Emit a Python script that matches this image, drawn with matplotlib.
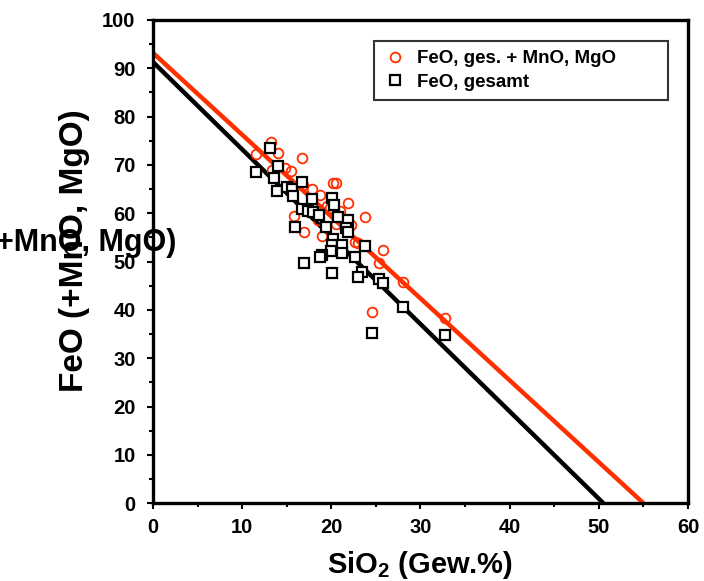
import matplotlib
matplotlib.use("Agg")
import matplotlib.pyplot as plt
import numpy as np
from matplotlib.ticker import MultipleLocator

plt.rcParams["font.family"] = ["Liberation Sans", "DejaVu Sans"]
plt.rcParams["font.weight"] = "bold"
plt.rcParams["mathtext.fontset"] = "custom"
plt.rcParams["mathtext.rm"] = "Liberation Sans:bold"
plt.rcParams["mathtext.bf"] = "Liberation Sans:bold"

RED = "#ff3000"

# FeO, ges. + MnO, MgO (circles)
sio2_total = [11.5, 13.2, 14.0, 14.8, 15.5, 13.4, 15.8, 16.7, 16.8, 18.7, 20.2, 20.5,
              21.9, 19.8, 16.9, 18.9, 23.8, 22.6, 23.0, 25.8, 25.3, 28.0, 24.6, 32.8,
              17.8, 19.5, 21.0, 22.2, 20.5, 18.5]
feo_total = [72.3, 74.7, 72.5, 69.4, 68.7, 69.0, 59.4, 71.5, 65.8, 63.8, 66.3, 66.3,
             62.1, 61.0, 56.1, 55.3, 59.2, 54.0, 53.8, 52.4, 49.7, 45.8, 39.5, 38.3,
             65.0, 61.5, 60.5, 57.5, 57.8, 58.5]

# FeO, gesamt (squares)
sio2_feo = [11.5, 13.1, 14.0, 13.6, 13.9, 15.0, 15.6, 15.7, 15.9, 16.7, 17.8, 16.7,
            17.4, 17.9, 18.6, 20.1, 20.3, 20.7, 21.9, 19.4, 21.7, 21.9, 20.2, 20.1,
            21.2, 20.0, 21.2, 18.9, 18.7, 22.6, 23.8, 16.9, 20.1, 23.4, 23.0, 25.3,
            25.8, 28.0, 24.6, 32.8]
feo_only = [68.5, 73.5, 69.7, 67.3, 64.6, 65.4, 65.0, 63.6, 57.1, 66.5, 62.9, 60.9,
            60.5, 60.2, 59.6, 63.1, 61.7, 59.2, 58.6, 57.1, 56.9, 56.1, 54.7, 53.4,
            53.4, 52.2, 51.8, 51.3, 50.9, 50.9, 53.2, 49.7, 47.6, 47.8, 46.8, 46.4,
            45.5, 40.6, 35.2, 34.8]

# regression lines: intercept, x at y = 0
fit_total = (93.2, 55.0)
fit_feo = (91.3, 50.5)

fig = plt.figure(figsize=(7.04, 5.81), dpi=100)
ax = fig.add_axes([0.2173, 0.134, 0.7600, 0.8316])

for (b, x0), col in [(fit_feo, "black"), (fit_total, RED)]:
    xs = np.array([0, x0])
    ax.plot(xs, b - b / x0 * xs, color=col, lw=3.2, zorder=2, solid_capstyle="butt")

ax.plot(sio2_total, feo_total, "o", ms=7, mfc="none", mec=RED, mew=1.3,
        label="FeO, ges. + MnO, MgO", zorder=3)
ax.plot(sio2_feo, feo_only, "s", ms=7.5, mfc="white", mec="black", mew=1.6,
        label="FeO, gesamt", zorder=4)

ax.set_xlim(0, 60)
ax.set_ylim(0, 100)
ax.xaxis.set_major_locator(MultipleLocator(10))
ax.xaxis.set_minor_locator(MultipleLocator(5))
ax.yaxis.set_major_locator(MultipleLocator(10))
ax.yaxis.set_minor_locator(MultipleLocator(5))
ax.tick_params(which="major", direction="out", length=4.5, width=1.5, labelsize=14.5)
ax.tick_params(axis="y", which="major", pad=8)
ax.tick_params(axis="x", which="major", pad=6)
ax.tick_params(which="minor", direction="out", length=3, width=1.5)
for sp in ax.spines.values():
    sp.set_linewidth(2.4)

ax.set_xlabel(r"SiO$_{2}$ (Gew.%)", fontsize=21, fontweight="bold", labelpad=9)
ax.set_ylabel("FeO (+MnO, MgO)", fontsize=24, fontweight="bold")
ax.yaxis.set_label_coords(-0.117, 0.522)

# stray horizontal copy of the label seen in the original
fig.text(176 / 704, 1 - 243 / 581, "FeO (+MnO, MgO)", ha="right", va="center",
         fontsize=22, fontweight="bold")

leg = ax.legend(loc="upper left", bbox_to_anchor=(0.413, 0.80, 0.55, 0.157),
                mode="expand", fontsize=13.5, frameon=True, fancybox=False,
                borderaxespad=0, handletextpad=0.6, labelspacing=0.35,
                borderpad=0.5, handlelength=1.2)
leg.get_frame().set_edgecolor("black")
leg.get_frame().set_linewidth(1.5)
for t in leg.get_texts():
    t.set_fontweight("bold")

fig.savefig("out.png", dpi=100)
